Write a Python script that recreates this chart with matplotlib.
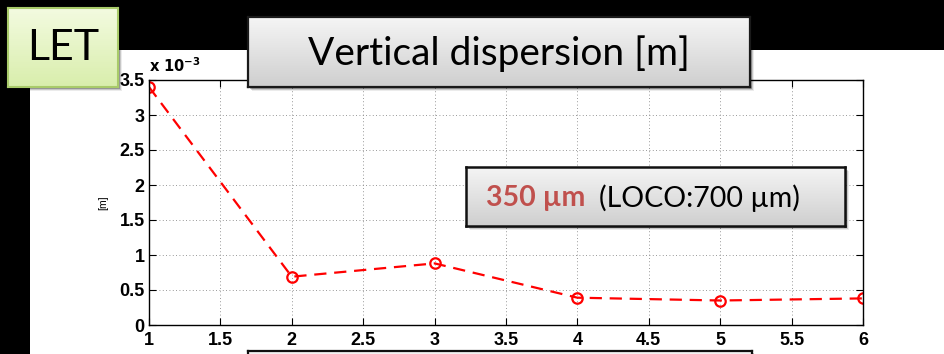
import numpy as np
import matplotlib.pyplot as plt
from matplotlib.patches import Rectangle
from matplotlib.ticker import FuncFormatter, MultipleLocator

# Data
iteration = [1, 2, 3, 4, 5, 6]
vert_disp = [3.40e-3, 0.69e-3, 0.88e-3, 0.39e-3, 0.35e-3, 0.38e-3]

title_text = "Vertical dispersion [m]"
tag_text = "LET"
result_text = "350 µm"
loco_text = "(LOCO:700 µm)"

W, H = 945, 354


def fx(px):
    return px / W


def fy(py):
    return 1 - py / H


def rect(x0, y0, x1, y1):
    # figure-fraction rect from pixel box (top-left origin)
    return [fx(x0), fy(y1), fx(x1) - fx(x0), fy(y0) - fy(y1)]


def gradient_box(fig, x0, y0, x1, y1, top, bot, edge, lw, z=5):
    # soft shadow
    for i, a in enumerate([0.25, 0.15, 0.08]):
        d = 2 + i
        fig.add_artist(Rectangle((fx(x0 + d), fy(y1 + d)), fx(x1) - fx(x0), fy(y0) - fy(y1),
                                 transform=fig.transFigure, facecolor="black",
                                 edgecolor="none", alpha=a, zorder=z - 0.5))
    bx = fig.add_axes(rect(x0, y0, x1, y1), zorder=z)
    c_top = np.array(plt.matplotlib.colors.to_rgb(top))
    c_bot = np.array(plt.matplotlib.colors.to_rgb(bot))
    t = np.linspace(0, 1, 64)[:, None, None]
    grad = c_top * (1 - t) + c_bot * t
    bx.imshow(grad, aspect="auto", extent=[0, 1, 0, 1], origin="upper")
    bx.set_xlim(0, 1)
    bx.set_ylim(0, 1)
    bx.set_xticks([])
    bx.set_yticks([])
    for s in bx.spines.values():
        s.set_color(edge)
        s.set_linewidth(lw)
    return bx


fig = plt.figure(figsize=(W / 100, H / 100), dpi=100)
fig.patch.set_facecolor("black")

# white slide area
fig.add_artist(Rectangle((fx(30), 0), 1 - fx(30), fy(50), transform=fig.transFigure,
                         facecolor="white", edgecolor="none", zorder=-1))

# main plot
ax = fig.add_axes(rect(149, 80, 863, 325))
ax.plot(iteration, vert_disp, "--", color="red", lw=1.6, marker="o", ms=7.5,
        mfc="none", mec="red", mew=1.6, dashes=(5.5, 3.5))
ax.set_xlim(1, 6)
ax.set_ylim(0, 3.5e-3)
ax.xaxis.set_major_locator(MultipleLocator(0.5))
ax.yaxis.set_major_locator(MultipleLocator(0.5e-3))
ax.xaxis.set_major_formatter(FuncFormatter(lambda v, p: f"{v:g}"))
ax.yaxis.set_major_formatter(FuncFormatter(lambda v, p: f"{v * 1e3:g}"))
ax.grid(True, linestyle=(0, (1, 3)), color="#777777", lw=0.6)
ax.tick_params(direction="in", top=True, right=True, length=5, width=0.8,
               labelsize=13, pad=3)
ax.tick_params(axis="x", pad=5)
for lab in ax.get_xticklabels() + ax.get_yticklabels():
    lab.set_fontweight("bold")
    lab.set_family("Liberation Sans")
for s in ax.spines.values():
    s.set_linewidth(1.0)
ax.set_ylabel("[m]", fontsize=7.5, family="Liberation Sans", labelpad=8)
ax.text(0.0, 1.02, r"$\mathbf{x\ 10^{-3}}$", transform=ax.transAxes,
        fontsize=10.5, ha="left", va="bottom", family="Liberation Sans")

# LET tag
bx = gradient_box(fig, 8, 8, 118, 87, "#f3fbe0", "#d9eeac", "#a9cb6a", 1.5)
bx.text(0.5, 0.5, tag_text, fontsize=31, family="Lato", ha="center", va="center")

# title box
bx = gradient_box(fig, 248, 17, 750, 87, "#f5f5f5", "#cfcfcf", "#1a1a1a", 1.6)
bx.text(0.5, 0.47, title_text, fontsize=28, family="Lato", ha="center", va="center")

# result box
bx = gradient_box(fig, 466, 167, 845, 226, "#f5f5f5", "#cfcfcf", "#111111", 1.8)
t1 = bx.text(0.053, 0.47, result_text + "  ", fontsize=20.5, family="Lato",
             fontweight="bold", color="#c0504d", ha="left", va="center")
bx.annotate(loco_text, xy=(1, 0.5), xycoords=t1, fontsize=20.5, family="Lato",
            color="black", ha="left", va="center")

# partial box at bottom edge
gradient_box(fig, 248, 351, 752, 380, "#f5f5f5", "#dddddd", "#111111", 1.6)

fig.savefig("out.png", dpi=100, facecolor=fig.get_facecolor())
